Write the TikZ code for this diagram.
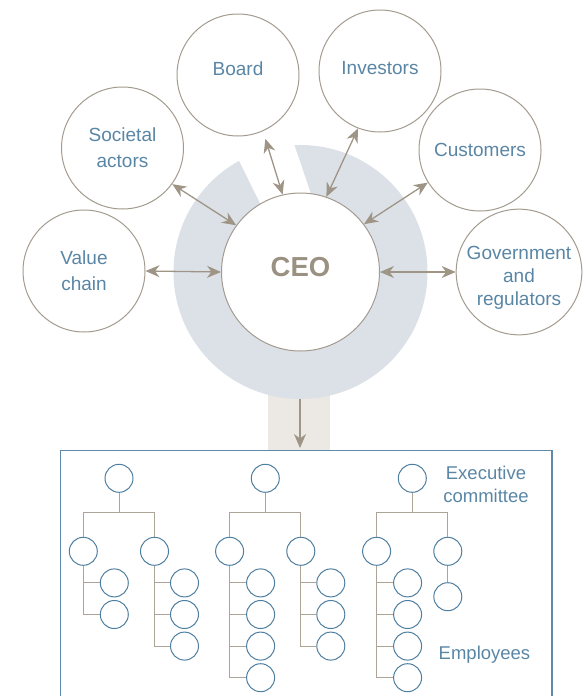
\documentclass[tikz,border=0pt]{standalone}
\usepackage{fontspec}
\setmainfont{Liberation Sans}
\usetikzlibrary{arrows.meta}
\definecolor{ringblue}{HTML}{DCE1E8}
\definecolor{stemgray}{HTML}{ECE9E4}
\definecolor{circlegray}{HTML}{A39B8F}
\definecolor{arrowgray}{HTML}{9E9586}
\definecolor{textblue}{HTML}{5A86A6}
\definecolor{ceogray}{HTML}{9B9182}
\definecolor{boxblue}{HTML}{5E8AAA}
\definecolor{staffblue}{HTML}{4F7FA0}
\definecolor{treegray}{HTML}{ADA498}
\tikzset{
  >={Stealth[length=14pt,width=12pt,inset=4.5pt]},
  actor/.style={circle, draw=circlegray, line width=1pt, fill=white,
    minimum size=122pt, inner sep=0pt, text=textblue, align=center,
    font=\fontsize{19}{26}\selectfont},
  link/.style={draw=arrowgray, line width=1.3pt, <->},
  staff/.style={circle, draw=staffblue, line width=1pt, fill=white,
    minimum size=28pt, inner sep=0pt},
  tree/.style={draw=treegray, line width=1pt},
  note/.style={text=textblue, align=center, font=\fontsize{18.5}{23}\selectfont}
}
\begin{document}
\begin{tikzpicture}[x=1pt,y=-1pt]
\useasboundingbox (0,0) rectangle (586,696);
% socle gris sous l'anneau
\fill[stemgray] (268,380) rectangle (330,451);
% anneau autour du CEO, ouvert vers le haut
\fill[ringblue] (300.5,272) circle (127pt);
\fill[white] (223.8,130) -- (266,215) -- (318,215) -- (289.3,130) -- cycle;
% CEO et parties prenantes
\node[actor, minimum size=158pt, text=ceogray,
  font=\bfseries\fontsize{27.5}{30}\selectfont] (ceo) at (300.5,272) {\raisebox{10pt}{CEO}};
\node[actor] (value) at (84,271) {Value\\chain};
\node[actor] (societal) at (122.5,148) {Societal\\actors};
\node[actor] (board) at (238,75) {\raisebox{12pt}{Board}};
\node[actor] (investors) at (380,71) {\raisebox{5.5pt}{Investors}};
\node[actor] (customers) at (480,150) {Customers};
\node[actor, font=\fontsize{19}{23.3}\selectfont] (government) at (519,272)
  {\raisebox{-6pt}[\height][\depth]{\begin{tabular}{@{}c@{}}Government\\and\\regulators\end{tabular}}};
\draw[link] (value.0) -- (ceo.180);
\draw[link] (societal.-36) -- (ceo.144);
\draw[link, shorten <=8pt] (board.-66) -- (ceo.103);
\draw[link] (investors.-111) -- (ceo.71);
\draw[link] (customers.212) -- (ceo.37.5);
\draw[link] (government.180) -- (ceo.0);
% fleche vers l'organisation
\coordinate (ringbottom) at (300,399);
\coordinate (boxtop) at (300,448);
\draw[draw=arrowgray, line width=1.3pt, ->] (ringbottom) -- (boxtop);
% cadre de l'organisation
\draw[draw=boxblue, line width=1.3pt] (60.7,700) -- (60.7,450.7) -- (552,450.7) -- (552,700);
% trois branches : sommet, deux adjoints, employes
\foreach \g/\x/\nl/\nr in {1/119/2/3, 2/265.3/4/3, 3/412.3/4/0}{
  \node[staff] (top\g) at (\x,478.3) {};
  \node[staff] (l\g) at (\x-35.7,551.3) {};
  \node[staff] (r\g) at (\x+35.5,551.3) {};
  \coordinate (bar\g) at (\x,512.7);
  \draw[tree] (top\g.south) -- (bar\g);
  \draw[tree] (l\g.north) |- (bar\g) -| (r\g.north);
  \foreach \k in {1,...,\nl}{
    \node[staff] (l\g-\k) at (\x-35.7+31,551.3+31.6*\k) {};
    \draw[tree] (l\g.south) |- (l\g-\k.west);
  }
  \ifnum\nr>0
  \foreach \k in {1,...,\nr}{
    \node[staff] (r\g-\k) at (\x+35.5+30,551.3+31.6*\k) {};
    \draw[tree] (r\g.south) |- (r\g-\k.west);
  }
  \fi
}
\node[staff] (r3-1) at (447.8,596.7) {};
\draw[tree] (r3.south) -- (r3-1.north);
\node[note] (exec) at (486,484) {Executive\\committee};
\node[note] (employees) at (484.5,655) {Employees};
\end{tikzpicture}
\end{document}
